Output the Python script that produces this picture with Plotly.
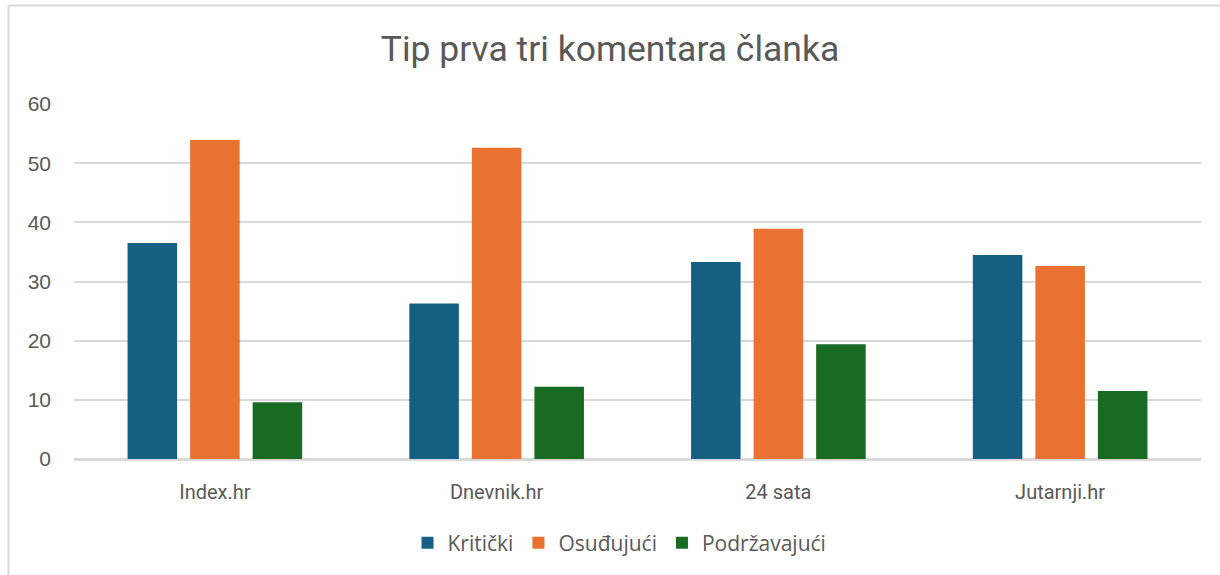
import plotly.graph_objects as go

categories = ["Index.hr", "Dnevnik.hr", "24 sata", "Jutarnji.hr"]
kriticki = [36.5, 26.3, 33.3, 34.5]
osudujuci = [53.9, 52.6, 38.9, 32.6]
podrzavajuci = [9.6, 12.2, 19.4, 11.5]
series_names = ["Kritički", "Osuđujući", "Podržavajući"]
colors = ["#156082", "#E97132", "#196B24"]
y_ticks = [0, 10, 20, 30, 40, 50, 60]

W, H = 1220, 575
L, R, T, B = 74, 19, 104, 116
pw, ph = W - L - R, H - T - B

fig = go.Figure()
for name, vals, c in zip(series_names, [kriticki, osudujuci, podrzavajuci], colors):
    fig.add_trace(go.Bar(x=categories, y=vals, name=name, marker=dict(color=c, line=dict(width=0))))

font_fam = "Roboto, Open Sans, sans-serif"
fig.update_layout(
    width=W, height=H,
    margin=dict(l=L, r=R, t=T, b=B),
    paper_bgcolor="white", plot_bgcolor="white",
    barmode="group", bargap=0.334, bargroupgap=0.208,
    title=dict(text="Tip prva tri komentara članka", x=0.5, xanchor="center",
               y=1 - 49 / H, yanchor="middle", yref="container",
               font=dict(family=font_fam, size=35.5, color="#595959")),
    font=dict(family=font_fam, color="#595959"),
    showlegend=True,
    legend=dict(orientation="h", x=0.5 - 18 / pw, xanchor="center", y=-(543 - (T + ph)) / ph, yanchor="middle",
                font=dict(family="Open Sans, sans-serif", size=21, color="#595959"),
                itemwidth=30, traceorder="normal"),
    xaxis=dict(showgrid=False, showline=True, linecolor="#d9d9d9", linewidth=2,
               tickfont=dict(size=20, color="#595959"), ticks="", ticklabelstandoff=14),
    yaxis=dict(range=[0, 60], tickvals=y_ticks, showgrid=True, gridcolor="#d9d9d9", gridwidth=2,
               zeroline=True, zerolinecolor="#d9d9d9", zerolinewidth=2,
               tickfont=dict(family="Liberation Sans, Arial, sans-serif", size=21, color="#595959"),
               ticklabelstandoff=22),
)

xl = (8.5 - L) / pw
yt = 1 + (T - 5.5) / ph
yb = -(H - (T + ph)) / ph - 0.05
xr = (W - L) / pw + 0.05
fig.add_shape(type="line", xref="paper", yref="paper", x0=xl, x1=xl, y0=yb, y1=yt,
              line=dict(color="#d9d9d9", width=2))
fig.add_shape(type="line", xref="paper", yref="paper", x0=xl, x1=xr, y0=yt, y1=yt,
              line=dict(color="#d9d9d9", width=2))

fig.write_html("out.html", config={"displayModeBar": False},
               post_script="document.body.style.margin='0';document.body.style.overflow='hidden';")
